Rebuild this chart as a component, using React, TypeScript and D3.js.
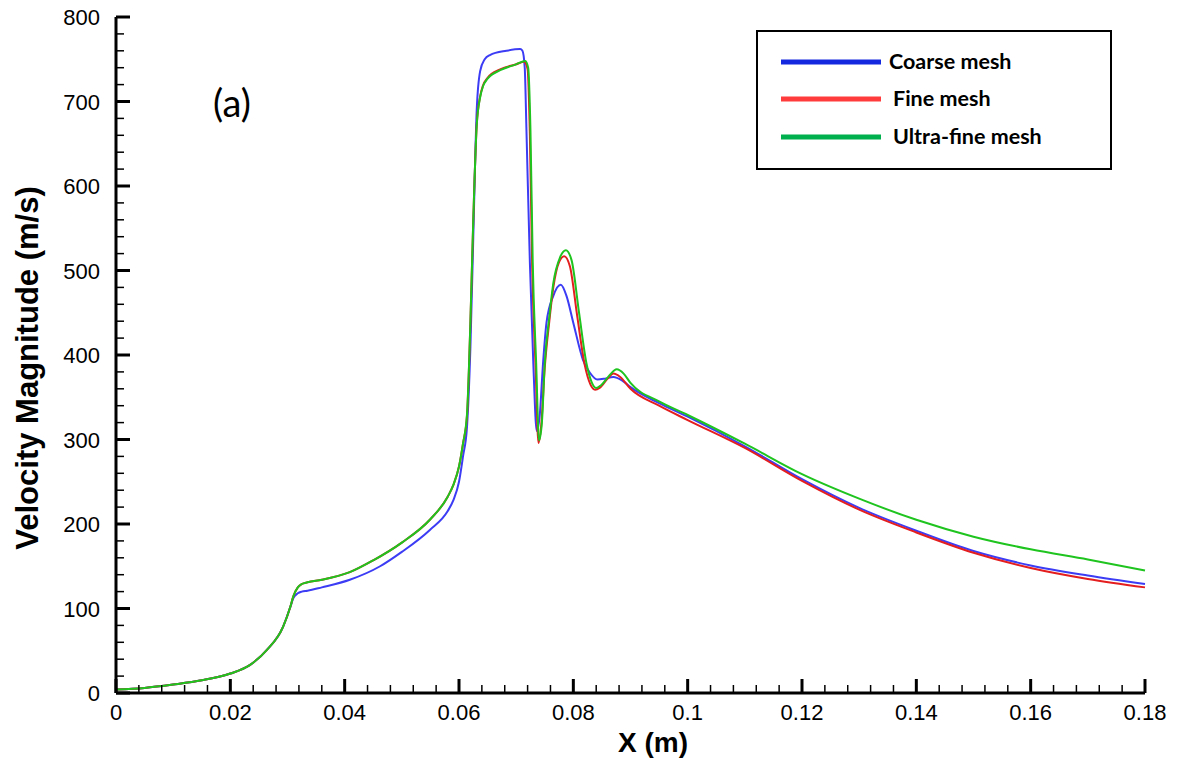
import React from "react";
import * as d3 from "d3";

const xTicks = [0, 0.02, 0.04, 0.06, 0.08, 0.1, 0.12, 0.14, 0.16, 0.18];
const yTicks = [0, 100, 200, 300, 400, 500, 600, 700, 800];

const coarseX = [0,0.005,0.01,0.015,0.02,0.0234,0.0264,0.0292,0.0305,0.031,0.0318,0.0325,0.0335,0.036,0.0409,0.0462,0.05,0.0549,0.058,0.059,0.06,0.0607,0.0614,0.062,0.0625,0.0631,0.0637,0.0645,0.0654,0.0683,0.0707,0.0711,0.0715,0.0718,0.0724,0.073,0.0736,0.0741,0.0747,0.0753,0.0765,0.0778,0.0788,0.08,0.0817,0.0829,0.0842,0.0855,0.087,0.0885,0.09,0.095,0.1,0.11,0.12,0.13,0.14,0.15,0.16,0.17,0.18];
const coarseV = [4,6,10,15,23,33,51,78,102,112,118,120,121,125,134,150,167,193,215,228,250,280,315,410,540,690,736,750,755,760,762,760,740,666,509,390,310,327,390,438,470,483,470,438,394,379,371,372,374,370,362,343,327,292,253,219,192,168,151,139,129];

const fineX = [0,0.005,0.01,0.015,0.02,0.0234,0.0264,0.0292,0.0305,0.031,0.0318,0.0325,0.0335,0.036,0.0409,0.045,0.05,0.0549,0.058,0.059,0.06,0.0607,0.0614,0.062,0.0625,0.0631,0.0637,0.0642,0.065,0.0672,0.07,0.0714,0.072,0.0724,0.0728,0.0734,0.0739,0.0744,0.075,0.0758,0.0765,0.0775,0.0784,0.0794,0.0807,0.082,0.083,0.0838,0.0846,0.086,0.087,0.0882,0.09,0.095,0.1,0.11,0.12,0.13,0.14,0.15,0.16,0.17,0.18];
const fineV = [4,6,10,15,23,33,51,78,102,114,125,129,131,134,143,157,178,205,232,246,268,295,328,440,560,672,706,719,728,738,744,747,738,660,505,385,296,318,385,440,480,510,517,505,445,388,365,359,361,372,378,374,360,340,323,290,251,217,190,166,148,135,125];

const ultraX = [0,0.005,0.01,0.015,0.02,0.0234,0.0264,0.0292,0.0305,0.031,0.0318,0.0325,0.0335,0.036,0.0409,0.045,0.05,0.0549,0.058,0.059,0.06,0.0607,0.0614,0.062,0.0625,0.0631,0.0637,0.0642,0.065,0.0672,0.07,0.0716,0.0721,0.0725,0.0729,0.0735,0.074,0.0745,0.075,0.0758,0.0765,0.0777,0.0787,0.0797,0.081,0.0823,0.0832,0.084,0.0848,0.0862,0.0876,0.0888,0.09,0.095,0.1,0.11,0.12,0.13,0.14,0.15,0.16,0.17,0.18];
const ultraV = [4,6,10,15,23,33,51,78,102,114,125,129,131,134,143,157,178,205,232,246,268,295,330,440,560,672,705,718,727,737,744,748,740,666,509,390,299,320,390,445,485,516,524,512,450,390,368,361,364,375,383,378,367,345,329,295,259,230,205,185,170,158,145];

const seriesNames = ["Coarse mesh", "Fine mesh", "Ultra-fine mesh"];
const curveColors = ["#3c3cf5", "#e41e1e", "#1fc41f"];
const legendColors = ["#1428e0", "#ff3b3b", "#00b04f"];

export default function App() {
  const W = 1177, H = 759;
  const x = d3.scaleLinear().domain([0, 0.18]).range([116, 1145]);
  const y = d3.scaleLinear().domain([0, 800]).range([693, 17]);
  const line = d3.line<[number, number]>().x(d => x(d[0])).y(d => y(d[1])).curve(d3.curveMonotoneX);
  const series = [
    d3.zip(coarseX, coarseV) as [number, number][],
    d3.zip(fineX, fineV) as [number, number][],
    d3.zip(ultraX, ultraV) as [number, number][],
  ];
  const xMinor = d3.range(0, 0.1801, 0.004).filter((_, i) => i % 5 !== 0);
  const yMinor = d3.range(0, 801, 20).filter((_, i) => i % 5 !== 0);
  const tickFont = "'Liberation Sans', Arial, sans-serif";
  return (
    <svg width={W} height={H} style={{ position: "absolute", left: 0, top: 0, background: "#fff" }}>
      <rect x={0} y={0} width={W} height={H} fill="#fff" />
      {series.map((s, i) => (
        <path key={i} d={line(s) || ""} fill="none" stroke={curveColors[i]} strokeWidth={2} />
      ))}
      <line x1={x(0)} x2={x(0.18)} y1={y(0)} y2={y(0)} stroke="#000" strokeWidth={3} />
      <line x1={x(0)} x2={x(0)} y1={y(0)} y2={y(800)} stroke="#000" strokeWidth={3} />
      {xTicks.map(t => (
        <g key={"xt" + t}>
          <line x1={x(t)} x2={x(t)} y1={y(0)} y2={y(0) - 14} stroke="#000" strokeWidth={3} />
          <text x={x(t)} y={720} textAnchor="middle" fontFamily={tickFont} fontSize={22}>{String(t)}</text>
        </g>
      ))}
      {xMinor.map(t => (
        <line key={"xm" + t} x1={x(t)} x2={x(t)} y1={y(0)} y2={y(0) - 8} stroke="#000" strokeWidth={1.5} />
      ))}
      {yTicks.map(t => (
        <g key={"yt" + t}>
          <line x1={x(0)} x2={x(0) + 14} y1={y(t)} y2={y(t)} stroke="#000" strokeWidth={3} />
          <text x={100} y={y(t) + 8} textAnchor="end" fontFamily={tickFont} fontSize={22}>{String(t)}</text>
        </g>
      ))}
      {yMinor.map(t => (
        <line key={"ym" + t} x1={x(0)} x2={x(0) + 8} y1={y(t)} y2={y(t)} stroke="#000" strokeWidth={1.5} />
      ))}
      <text x={653} y={752} textAnchor="middle" fontFamily={tickFont} fontWeight="bold" fontSize={28}>X (m)</text>
      <text transform="translate(38,368) rotate(-90)" textAnchor="middle" fontFamily={tickFont} fontWeight="bold" fontSize={31}>Velocity Magnitude (m/s)</text>
      <text x={232} y={117} textAnchor="middle" fontFamily="Lato, 'Open Sans', sans-serif" fontSize={38}>(a)</text>
      <rect x={757} y={31} width={354} height={138} fill="#fff" stroke="#000" strokeWidth={2} />
      {seriesNames.map((n, i) => {
        const ly = [62, 99, 137][i];
        return (
          <g key={n}>
            <line x1={781} x2={881} y1={ly} y2={ly} stroke={legendColors[i]} strokeWidth={5} />
            <text x={i === 0 ? 889 : 893} y={ly + 7} fontFamily="Lato, 'Open Sans', sans-serif" fontWeight="bold" fontSize={21.5}>{n}</text>
          </g>
        );
      })}
    </svg>
  );
}
